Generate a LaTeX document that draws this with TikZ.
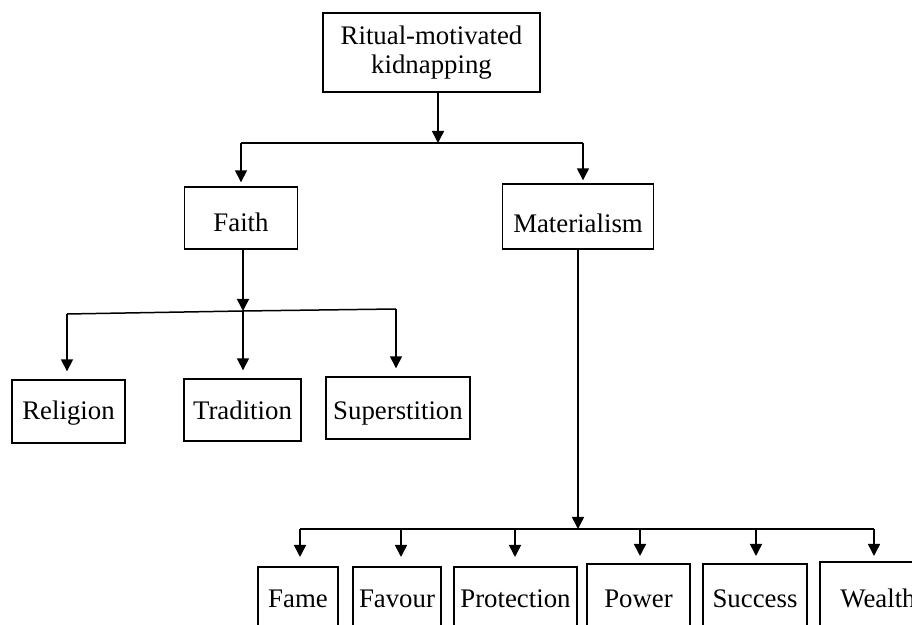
\documentclass[tikz,border=0pt]{standalone}
\usepackage{fontspec}
\setmainfont{Liberation Serif}
\usetikzlibrary{arrows.meta}
\definecolor{BLACK}{HTML}{000000}

\tikzset{
    box/.style={draw=BLACK, line width=0.7pt, inner sep=0pt, align=center,
        text depth=3pt, font=\fontsize{13.4}{14.5}\selectfont},
    conn/.style={BLACK, line width=0.75pt},
    arr/.style={conn, -{Triangle[width=6pt,length=6pt]}}
}

\begin{document}
\begin{tikzpicture}[x=0.5pt, y=-0.5pt]
    \useasboundingbox (0,0) rectangle (912,625);
    \clip (0,0) rectangle (912,625);
    % boxes
    \node[box, text depth=, minimum width=108.5pt, minimum height=39.5pt] (ritual) at (431.5,52.5) {Ritual-motivated\\kidnapping};
    \node[box, text height=17pt, minimum width=56.5pt, minimum height=31pt] (faith) at (241,218) {Faith};
    \node[box, text height=19.5pt, minimum width=75.5pt, minimum height=32.5pt] (mat) at (578,216.5) {Materialism};
    \node[box, text height=11.5pt, minimum width=56.5pt, minimum height=31.5pt] (religion) at (68.5,411.5) {Religion};
    \node[box, text height=13pt, minimum width=58.5pt, minimum height=31pt] (tradition) at (242.5,410) {Tradition};
    \node[box, text height=15pt, minimum width=72pt, minimum height=31pt] (superst) at (398,408) {Superstition};
    \node[box, text height=12pt, minimum width=40pt, minimum height=32pt] (fame) at (298,599) {Fame};
    \node[box, text height=12pt, minimum width=44pt, minimum height=32pt] (favour) at (397,599) {Favour};
    \node[box, text height=12pt, minimum width=61.5pt, minimum height=32pt] (protect) at (515.5,599) {Protection};
    \node[box, text height=13.5pt, minimum width=51.5pt, minimum height=33.5pt] (power) at (638.5,597.5) {Power};
    \node[box, text height=13.5pt, minimum width=52pt, minimum height=33.5pt] (success) at (755,597.5) {Success};
    \node[box, text height=14.5pt, minimum width=58pt, minimum height=34.5pt] (wealth) at (878,596.5) {Wealth};
    % first split
    \coordinate (topj) at (438,143);
    \coordinate (fj) at (241,143);
    \coordinate (mj) at (583,143);
    \draw[arr] (ritual.south -| topj) -- (topj);
    \draw[conn] (fj) -- (mj);
    \draw[arr, shorten >=2pt] (fj) -- (fj |- faith.north);
    \draw[arr, shorten >=1.5pt] (mj) -- (mj |- mat.north);
    % faith branch
    \coordinate (faithj) at (243,311);
    \coordinate (relj) at (67,314);
    \coordinate (supj) at (396,309);
    \draw[arr] (faith.south -| faithj) -- (faithj);
    \draw[conn] (relj) -- (faithj) -- (supj);
    \draw[arr, shorten >=4pt] (relj) -- (relj |- religion.north);
    \draw[arr, shorten >=4pt] (faithj) -- (faithj |- tradition.north);
    \draw[arr, shorten >=4pt] (supj) -- (supj |- superst.north);
    % materialism branch
    \coordinate (matj) at (578,529);
    \draw[arr] (mat.south) -- (matj);
    \draw[conn] (300,529) -- (874,529);
    \draw[arr, shorten >=5pt] (300,529) -- (300,567);
    \draw[arr, shorten >=5pt] (401,529) -- (401,567);
    \draw[arr, shorten >=5pt] (515,529) -- (515,567);
    \draw[arr, shorten >=4pt] (640,529) -- (640,564);
    \draw[arr, shorten >=4pt] (756,529) -- (756,564);
    \draw[arr, shorten >=3pt] (874,529) -- (874,562);
\end{tikzpicture}
\end{document}
